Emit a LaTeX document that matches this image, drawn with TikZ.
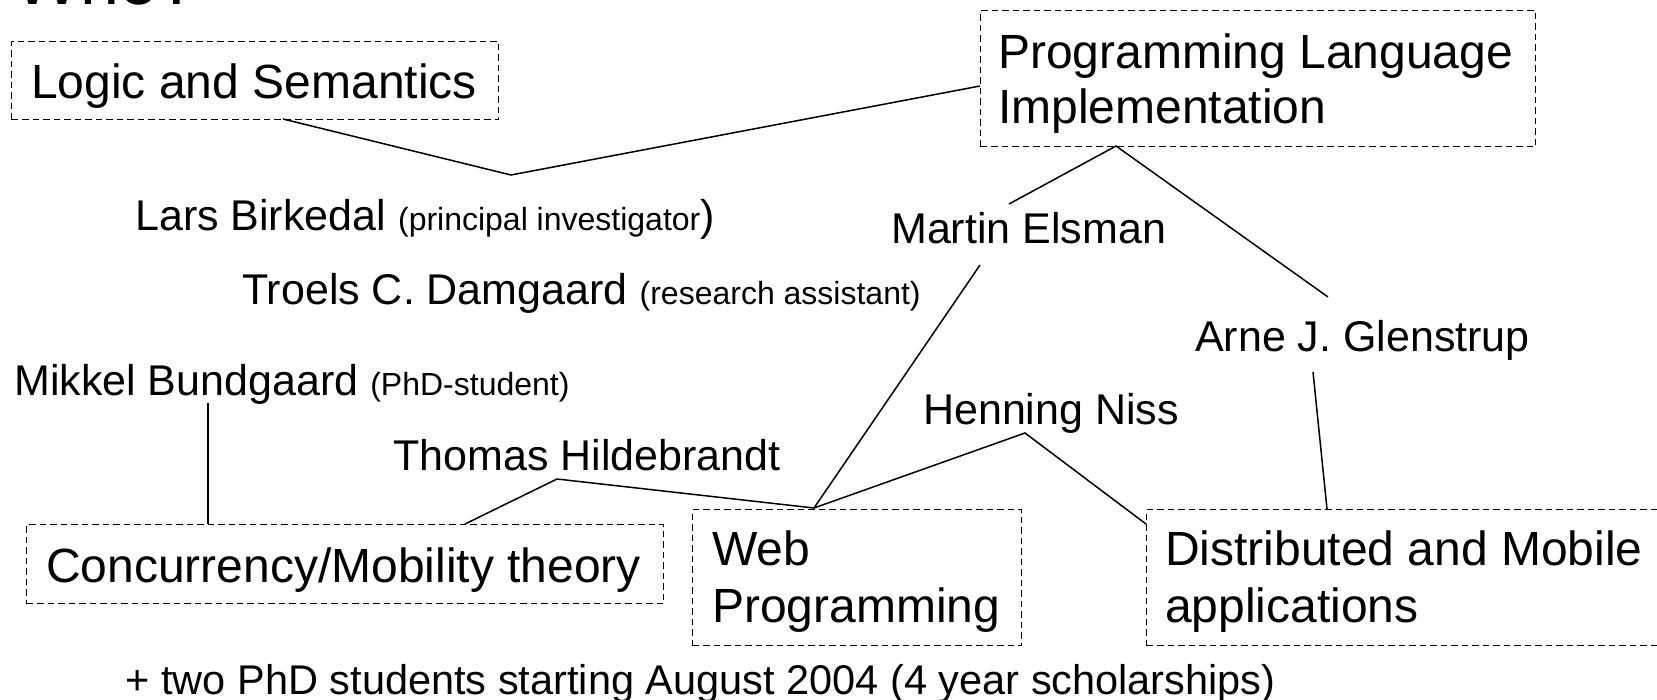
\documentclass[tikz,border=0pt]{standalone}
\usepackage{fontspec}
\setmainfont{Liberation Sans}
\begin{document}
\begin{tikzpicture}[x=1pt,y=-1pt,
  box/.style={draw, line width=1.4pt, dash pattern=on 6.5pt off 4pt, anchor=north west, inner sep=0pt},
  big/.style={font=\fontsize{48}{55}\selectfont, anchor=base west, inner sep=0pt},
  nm/.style={font=\fontsize{43}{49}\selectfont, anchor=base west, inner sep=0pt},
  foot/.style={font=\fontsize{41.5}{48}\selectfont, anchor=base west, inner sep=0pt},
  ttl/.style={font=\fontsize{70}{80}\selectfont, anchor=base west, inner sep=0pt},
  conn/.style={line width=1.5pt}]
\newcommand{\smalltxt}[1]{{\fontsize{32}{37}\selectfont #1}}
\useasboundingbox (0,0) rectangle (1657,699);

% title
\node[ttl] (who) at (14,4) {Who?};

% boxes
\node[box, minimum width=487pt, minimum height=78pt] (logic) at (11,41) {};
\node[big] (logict) at (31,98) {Logic and Semantics};

\node[box, minimum width=555pt, minimum height=136pt] (pli) at (980,10) {};
\node[big] (plit1) at (998,68) {Programming Language};
\node[big] (plit2) at (998,123) {Implementation};

\node[box, minimum width=637pt, minimum height=79pt] (conc) at (26,524) {};
\node[big] (conct) at (46,582) {Concurrency/Mobility theory};

\node[box, minimum width=329pt, minimum height=136pt] (web) at (692,509) {};
\node[big] (webt1) at (712,565) {Web};
\node[big] (webt2) at (712,622) {Programming};

\node[box, minimum width=560pt, minimum height=136pt] (dist) at (1146,509) {};
\node[big] (distt1) at (1165,565) {Distributed and Mobile};
\node[big] (distt2) at (1165,622) {applications};

% people
\node[nm] (lars) at (135,230) {Lars Birkedal \smalltxt{(principal investigator}\/)};
\node[nm] (troels) at (242,304) {Troels C. Damgaard \smalltxt{(research assistant)}};
\node[nm] (martin) at (891,243) {Martin Elsman};
\node[nm] (arne) at (1195,351) {Arne J. Glenstrup};
\node[nm] (mikkel) at (14,395) {Mikkel Bundgaard \smalltxt{(PhD-student)}};
\node[nm] (henning) at (923,424) {Henning Niss};
\node[nm] (thomas) at (393,470) {Thomas Hildebrandt};

\node[foot] (footer) at (125.5,694) {+ two PhD students starting August 2004 (4 year scholarships)};

% connection points
\coordinate (lgB) at (283,119);
\coordinate (lgJ) at (511,175);
\coordinate (plL) at (980,86);
\coordinate (plB) at (1116,146);
\coordinate (mtT) at (1009,204);
\coordinate (arT) at (1328,297);
\coordinate (mtB) at (980,265);
\coordinate (wbT) at (814,508);
\coordinate (hnB) at (1025,433);
\coordinate (dsL) at (1146,524);
\coordinate (thB) at (557,479);
\coordinate (ccT) at (465,524);
\coordinate (mkB) at (208,403);
\coordinate (ccT2) at (208,524);
\coordinate (arB) at (1313,372);
\coordinate (dsT) at (1327,509);

% connectors
\draw[conn] (lgB) -- (lgJ) -- (plL);
\draw[conn] (mtT) -- (plB) -- (arT);
\draw[conn] (mtB) -- (wbT);
\draw[conn] (wbT) -- (hnB) -- (dsL);
\draw[conn] (ccT) -- (thB) -- (wbT);
\draw[conn] (mkB) -- (ccT2);
\draw[conn] (arB) -- (dsT);
\end{tikzpicture}
\end{document}
